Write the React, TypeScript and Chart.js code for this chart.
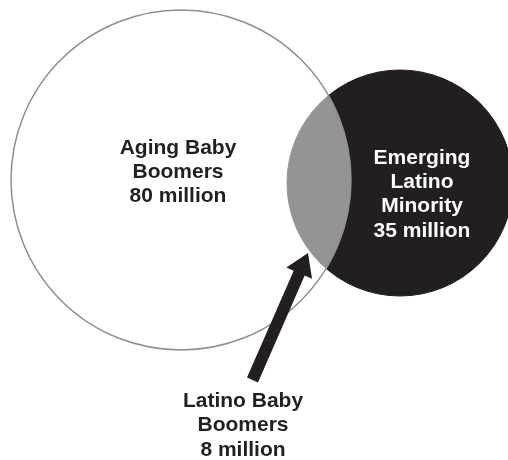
import React, { useEffect, useRef } from "react";
import { Chart, registerables } from "chart.js";

Chart.register(...registerables);

// ---- data ----
const groupNames = ["Aging Baby Boomers", "Emerging Latino Minority", "Latino Baby Boomers"];
const groupMillions = [80, 35, 8];
const labelLines: string[][] = [
  ["Aging Baby", "Boomers", `${groupMillions[0]} million`],
  ["Emerging", "Latino", "Minority", `${groupMillions[1]} million`],
  ["Latino Baby", "Boomers", `${groupMillions[2]} million`],
];

// ---- layout (scale units = page pixels) ----
const W = 508;
const H = 460;
const BIG = { x: 181, y: 180, r: 170 };
const SMALL = { x: 400, y: 183, r: 113 };
const LABEL_POS = [
  { x: 178, y: 154 },
  { x: 422, y: 163.5 },
  { x: 243, y: 407 },
];
const LINE_H = [23.8, 24.4, 24.4];
const ARROW = { tail: { x: 252.5, y: 380 }, tip: { x: 308, y: 253 }, shaftHalf: 6, headHalf: 14, headLen: 22 };

const DARK = "#231f20";

const overlayPlugin = {
  id: "overlay",
  afterDatasetsDraw(chart: any) {
    const { ctx, scales } = chart;
    const sx = (v: number) => scales.x.getPixelForValue(v);
    const sy = (v: number) => scales.y.getPixelForValue(v);
    ctx.save();
    // arrow
    const tx = sx(ARROW.tail.x), ty = sy(ARROW.tail.y);
    const px = sx(ARROW.tip.x), py = sy(ARROW.tip.y);
    const dx = px - tx, dy = py - ty;
    const len = Math.hypot(dx, dy);
    const ux = dx / len, uy = dy / len;
    const nx = -uy, ny = ux;
    const bx = px - ux * ARROW.headLen, by = py - uy * ARROW.headLen;
    ctx.beginPath();
    ctx.moveTo(tx + nx * ARROW.shaftHalf, ty + ny * ARROW.shaftHalf);
    ctx.lineTo(bx + nx * ARROW.shaftHalf, by + ny * ARROW.shaftHalf);
    ctx.lineTo(bx + nx * ARROW.headHalf, by + ny * ARROW.headHalf);
    ctx.lineTo(px, py);
    ctx.lineTo(bx - nx * ARROW.headHalf, by - ny * ARROW.headHalf);
    ctx.lineTo(bx - nx * ARROW.shaftHalf, by - ny * ARROW.shaftHalf);
    ctx.lineTo(tx - nx * ARROW.shaftHalf, ty - ny * ARROW.shaftHalf);
    ctx.closePath();
    ctx.fillStyle = DARK;
    ctx.fill();

    // labels
    ctx.font = "bold 21px 'Liberation Sans', Arial, sans-serif";
    ctx.textAlign = "center";
    ctx.textBaseline = "alphabetic";
    labelLines.forEach((lines, i) => {
      ctx.fillStyle = i === 1 ? "#ffffff" : DARK;
      lines.forEach((ln, j) => {
        ctx.fillText(ln, sx(LABEL_POS[i].x), sy(LABEL_POS[i].y + j * LINE_H[i]));
      });
    });
    ctx.restore();
  },
};

export default function App() {
  const ref = useRef<HTMLCanvasElement | null>(null);
  useEffect(() => {
    document.body.style.margin = "0";
    const chart = new Chart(ref.current as HTMLCanvasElement, {
      type: "bubble",
      data: {
        datasets: [
          {
            label: groupNames[0],
            data: [{ x: BIG.x, y: BIG.y, r: BIG.r }],
            backgroundColor: "rgba(255,255,255,0.52)",
            borderColor: "#8e8e8e",
            borderWidth: 1.5,
            order: 0,
          },
          {
            label: groupNames[1],
            data: [{ x: SMALL.x, y: SMALL.y, r: SMALL.r }],
            backgroundColor: DARK,
            borderColor: DARK,
            borderWidth: 1,
            order: 1,
          },
        ],
      },
      options: {
        responsive: false,
        animation: false,
        events: [],
        layout: { padding: 0, autoPadding: false },
        plugins: { legend: { display: false }, tooltip: { enabled: false } },
        scales: {
          x: { type: "linear", min: 0, max: W, display: false },
          y: { type: "linear", min: 0, max: H, reverse: true, display: false },
        },
      },
      plugins: [overlayPlugin],
    });
    return () => chart.destroy();
  }, []);
  return (
    <div style={{ width: W, height: H, background: "#fff" }}>
      <canvas ref={ref} width={W} height={H} style={{ display: "block" }} />
    </div>
  );
}
